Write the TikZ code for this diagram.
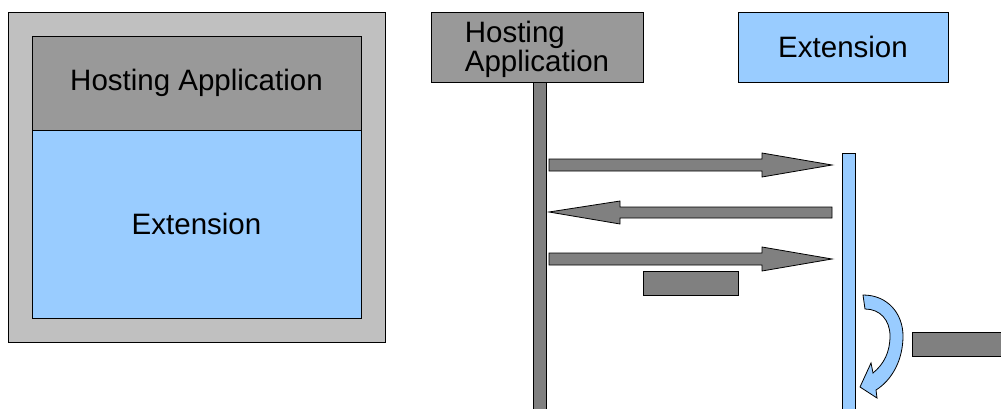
\documentclass[tikz,border=0pt]{standalone}
\usepackage{fontspec}
\setmainfont{Liberation Sans}
\definecolor{outergray}{HTML}{C0C0C0}
\definecolor{headgray}{HTML}{999999}
\definecolor{arrowgray}{HTML}{808080}
\definecolor{extblue}{HTML}{99CCFF}
\begin{document}
\begin{tikzpicture}[x=1pt,y=-1pt,
  outline/.style={draw=black,line width=0.8pt},
  headbox/.style={outline,fill=headgray},
  extbox/.style={outline,fill=extblue},
  blockarrow/.style={outline,fill=arrowgray},
  lbl/.style={font=\fontsize{29.5}{29}\selectfont,text=black,inner sep=0pt}]
\useasboundingbox (0,0) rectangle (1001,409);
\clip (0,0) rectangle (1001,409);
% left composite
\draw[outline,fill=outergray] (8,12) rectangle (385,342);
\draw[headbox] (32,36) rectangle (361,130);
\draw[extbox] (32,130) rectangle (361,318);
\node[lbl] (lhost) at (196.5,83) {Hosting Application};
\node[lbl] (lext) at (196.5,224) {Extension};
% right: headers
\draw[headbox] (431,12) rectangle (643,82);
\node[lbl,align=left] (rhost) at (537,49) {Hosting\\Application};
\draw[extbox] (738,12) rectangle (948,82);
\node[lbl] (rext) at (843,47) {Extension};
% lifelines
\draw[blockarrow] (533,82) rectangle (546,412);
\draw[extbox] (842,153) rectangle (855,412);
% arrows
\draw[blockarrow] (549,159) -- (762,159) -- (762,153) -- (832,165) -- (762,177) -- (762,171) -- (549,171) -- cycle;
\draw[blockarrow] (832,207) -- (620,207) -- (620,201) -- (549,212) -- (620,224) -- (620,218) -- (832,218) -- cycle;
\draw[blockarrow] (549,253) -- (762,253) -- (762,247) -- (832,259) -- (762,271) -- (762,265) -- (549,265) -- cycle;
\draw[blockarrow] (643,271) rectangle (738,295);
% self call curved arrow
\draw[extbox] (863,295) .. controls (888,295) and (903,314) .. (903,336)
  .. controls (903,360) and (892,380) .. (876,390)
  -- (877,398) -- (860,387) -- (871,363) -- (873,373)
  .. controls (884,364) and (890,352) .. (890,336)
  .. controls (890,320) and (880,309) .. (865,309) -- cycle;
\draw[blockarrow] (912,332) rectangle (1010,356);
\end{tikzpicture}
\end{document}
